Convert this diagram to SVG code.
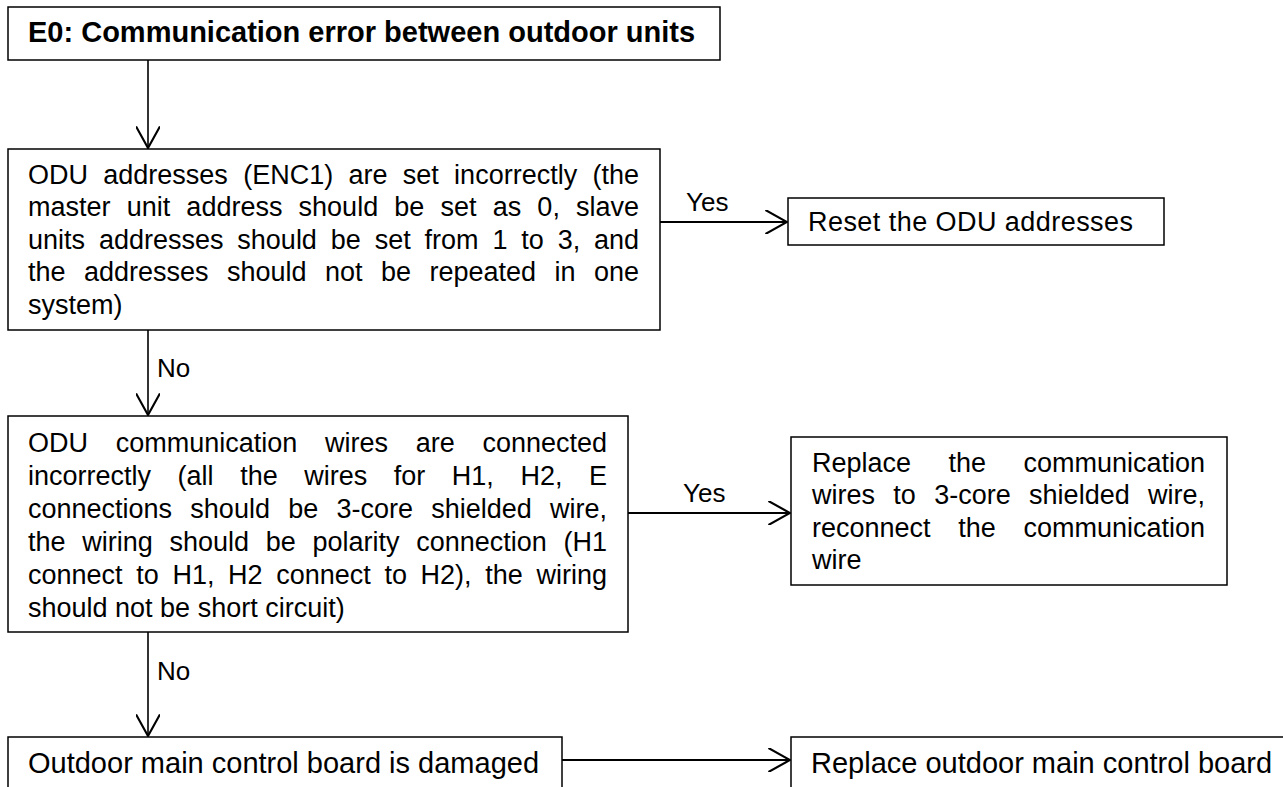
<svg xmlns="http://www.w3.org/2000/svg" width="1283" height="787" viewBox="0 0 1283 787">
<style>
.box{fill:#fff;stroke:#000;stroke-width:1.5}
.t{font-family:"Liberation Sans",Arial,sans-serif;font-size:27px;fill:#000}
.l{font-size:26px}
.b{font-weight:bold;font-size:29px}
.big{font-size:29px}
.c{fill:none;stroke:#000;stroke-width:1.6}
.h{stroke-width:2.2}
</style>
<defs>
<marker id="ah" markerUnits="userSpaceOnUse" markerWidth="24" markerHeight="24" refX="18" refY="10" orient="auto" viewBox="0 0 20 20">
<path d="M0,0 L18,10 L0,20" fill="none" stroke="#000" stroke-width="1.8"/>
</marker>
</defs>
<rect width="1283" height="787" fill="#fff"/>
<g id="connectors">
<path class="c" d="M148,60 V148" marker-end="url(#ah)"/>
<path class="c h" d="M660,222 H787" marker-end="url(#ah)"/>
<text class="t l" x="686" y="211">Yes</text>
<path class="c" d="M148,330 V415" marker-end="url(#ah)"/>
<text class="t l" x="157" y="377">No</text>
<path class="c h" d="M628,513 H790" marker-end="url(#ah)"/>
<text class="t l" x="683" y="502">Yes</text>
<path class="c" d="M148,632 V736" marker-end="url(#ah)"/>
<text class="t l" x="157" y="680">No</text>
<path class="c h" d="M562,760 H790" marker-end="url(#ah)"/>
</g>
<g id="n-start">
<rect class="box" x="8" y="7" width="712" height="53"/>
<text class="t b" x="28" y="42">E0: Communication error between outdoor units</text>
</g>
<g id="n-address">
<rect class="box" x="8" y="149" width="652" height="181"/>
<text class="t" x="28" y="184" word-spacing="7.8">ODU addresses (ENC1) are set incorrectly (the</text>
<text class="t" x="28" y="216" word-spacing="8.66">master unit address should be set as 0, slave</text>
<text class="t" x="28" y="249" word-spacing="6.36">units addresses should be set from 1 to 3, and</text>
<text class="t" x="28" y="281" word-spacing="10.95">the addresses should not be repeated in one</text>
<text class="t" x="28" y="314">system)</text>
</g>
<g id="n-reset">
<rect class="box" x="788" y="198" width="376" height="47"/>
<text class="t" x="808" y="231" font-size="28" textLength="325">Reset the ODU addresses</text>
</g>
<g id="n-wires">
<rect class="box" x="8" y="416" width="620" height="216"/>
<text class="t" x="28" y="452" word-spacing="20.2">ODU communication wires are connected</text>
<text class="t" x="28" y="485" word-spacing="19.05">incorrectly (all the wires for H1, H2, E</text>
<text class="t" x="28" y="518" word-spacing="10.75">connections should be 3-core shielded wire,</text>
<text class="t" x="28" y="551" word-spacing="9.2">the wiring should be polarity connection (H1</text>
<text class="t" x="28" y="584" word-spacing="6.15">connect to H1, H2 connect to H2), the wiring</text>
<text class="t" x="28" y="617">should not be short circuit)</text>
</g>
<g id="n-replace-wires">
<rect class="box" x="791" y="437" width="436" height="148"/>
<text class="t" x="812" y="472" word-spacing="29.9">Replace the communication</text>
<text class="t" x="812" y="504" word-spacing="10.85">wires to 3-core shielded wire,</text>
<text class="t" x="812" y="537" word-spacing="20.2">reconnect the communication</text>
<text class="t" x="812" y="569">wire</text>
</g>
<g id="n-board">
<rect class="box" x="8" y="737" width="554" height="70"/>
<text class="t big" x="28" y="773">Outdoor main control board is damaged</text>
</g>
<g id="n-replace-board">
<rect class="box" x="791" y="737" width="500" height="70"/>
<text class="t big" x="811" y="773">Replace outdoor main control board</text>
</g>
</svg>
